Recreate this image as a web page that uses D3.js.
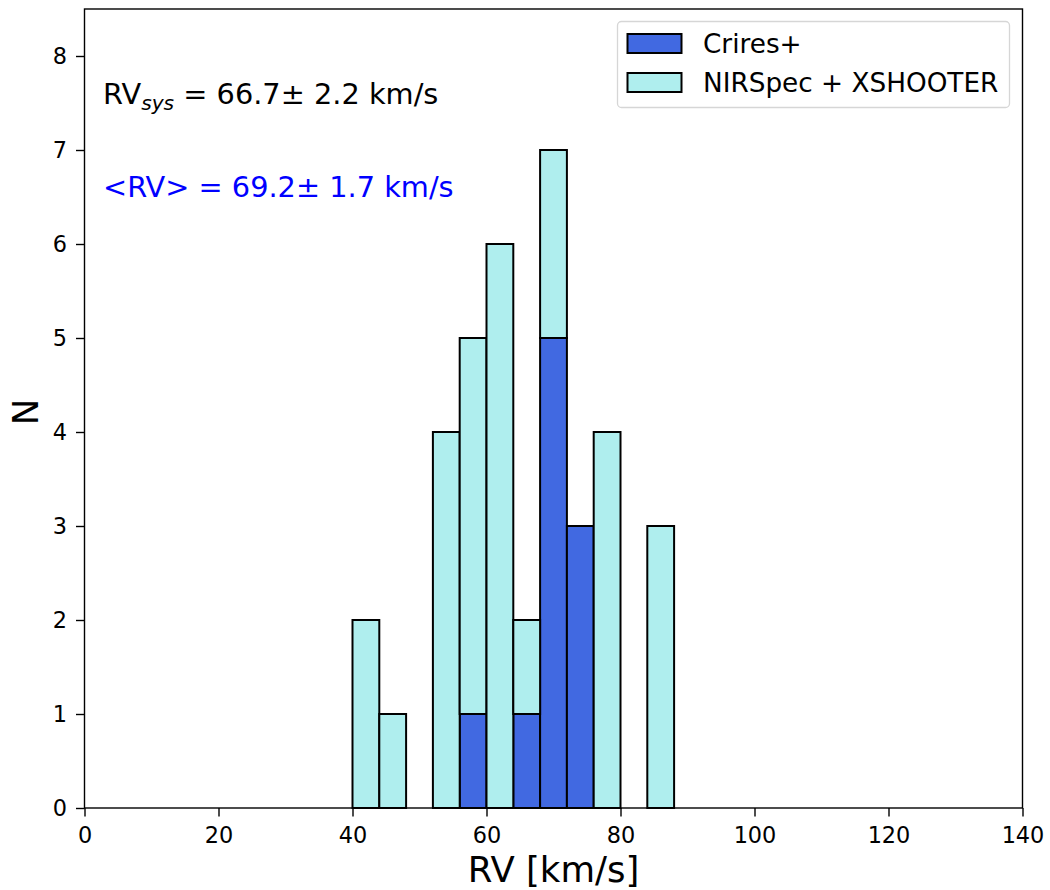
<!DOCTYPE html>
<html>
<head>
<meta charset="utf-8">
<script src="https://cdn.jsdelivr.net/npm/d3@7"></script>
<style>
  html, body { margin: 0; padding: 0; background: #fff; }
  svg { display: block; font-family: "DejaVu Sans", sans-serif; }
</style>
</head>
<body>
<svg id="chart" width="1050" height="890"></svg>
<script>
// Histogram bins (km/s), 4 km/s wide, from 0 to 96
const binEdges = d3.range(0, 97, 4);
// Counts per bin for each instrument group (stacked: Crires+ at the bottom)
const criresCounts   = [0,0,0,0,0,0,0,0,0,0, 0,0,0,0,1,0,1,5,3,0, 0,0,0,0];
const nirspecCounts  = [0,0,0,0,0,0,0,0,0,0, 2,1,0,4,4,6,1,2,0,4, 0,3,0,0];
const seriesNames = ["Crires+", "NIRSpec + XSHOOTER"];
const seriesColors = ["#4169E1", "#AFEEEE"];
const xTicks = [0, 20, 40, 60, 80, 100, 120, 140];
const yTicks = [0, 1, 2, 3, 4, 5, 6, 7, 8];
const xDomain = [0, 140];
const yDomain = [0, 8.5];

const svg = d3.select("#chart");
const margin = { left: 84.5, top: 9, right: 27.5, bottom: 82 };
const W = 1050, H = 890;
const x = d3.scaleLinear().domain(xDomain).range([margin.left, W - margin.right]);
const y = d3.scaleLinear().domain(yDomain).range([H - margin.bottom, margin.top]);

// stacked bars
const bins = binEdges.slice(0, -1).map((x0, i) => ({
  x0, x1: binEdges[i + 1],
  a: criresCounts[i], b: nirspecCounts[i]
}));

const g = svg.append("g");
[0, 1].forEach(s => {
  g.selectAll(null).data(bins).enter().append("rect")
    .attr("x", d => x(d.x0))
    .attr("width", d => x(d.x1) - x(d.x0))
    .attr("y", d => s === 0 ? y(d.a) : y(d.a + d.b))
    .attr("height", d => s === 0 ? y(0) - y(d.a) : y(d.a) - y(d.a + d.b))
    .attr("fill", seriesColors[s])
    .attr("stroke", "#000")
    .attr("stroke-width", 2);
});

// axes
const xAxis = d3.axisBottom(x).tickValues(xTicks).tickSize(8.5).tickPadding(10.5).tickSizeOuter(0);
const yAxis = d3.axisLeft(y).tickValues(yTicks).tickSize(8.5).tickPadding(9).tickSizeOuter(0);

const gx = svg.append("g").attr("transform", `translate(0,${y(0)})`).call(xAxis);
const gy = svg.append("g").attr("transform", `translate(${x(0)},0)`).call(yAxis);
[gx, gy].forEach(ax => {
  ax.select(".domain").remove();
  ax.selectAll(".tick line").attr("stroke", "#000").attr("stroke-width", 1.4);
  ax.selectAll(".tick text").attr("font-size", 22.4).attr("fill", "#000")
    .attr("font-family", "DejaVu Sans, sans-serif");
});

// frame
svg.append("rect")
  .attr("x", x(xDomain[0])).attr("y", y(yDomain[1]))
  .attr("width", x(xDomain[1]) - x(xDomain[0]))
  .attr("height", y(yDomain[0]) - y(yDomain[1]))
  .attr("fill", "none").attr("stroke", "#000").attr("stroke-width", 1.4);

// axis labels
svg.append("text").attr("x", (x(0) + x(140)) / 2).attr("y", 882)
  .attr("text-anchor", "middle").attr("font-size", 35.5).text("RV [km/s]");
svg.append("text")
  .attr("transform", `translate(38,412) rotate(-90)`)
  .attr("text-anchor", "middle").attr("font-size", 35.5).text("N");

// annotations
const t1 = svg.append("text").attr("x", 103).attr("y", 104).attr("font-size", 28.8).attr("fill", "#000");
t1.append("tspan").text("RV");
t1.append("tspan").attr("font-style", "italic").attr("font-size", 20.2).attr("dy", 6).text("sys");
t1.append("tspan").attr("dy", -6).text(" = 66.7\u00b1 2.2 km/s");

svg.append("text").attr("x", 103).attr("y", 197).attr("font-size", 28.8).attr("fill", "#0000ff")
  .text("<RV> = 69.2\u00b1 1.7 km/s");

// legend
const lg = svg.append("g");
lg.append("rect").attr("x", 617.5).attr("y", 21.5).attr("width", 392).attr("height", 86)
  .attr("rx", 4).attr("fill", "#fff").attr("fill-opacity", 0.8)
  .attr("stroke", "#d6d6d6").attr("stroke-width", 1.3);
seriesNames.forEach((name, i) => {
  const yy = 34 + i * 39;
  lg.append("rect").attr("x", 627.5).attr("y", yy).attr("width", 54).attr("height", 19)
    .attr("fill", seriesColors[i]).attr("stroke", "#000").attr("stroke-width", 2);
  lg.append("text").attr("x", 703).attr("y", yy + 19).attr("font-size", 26.3).text(name);
});
</script>
</body>
</html>
